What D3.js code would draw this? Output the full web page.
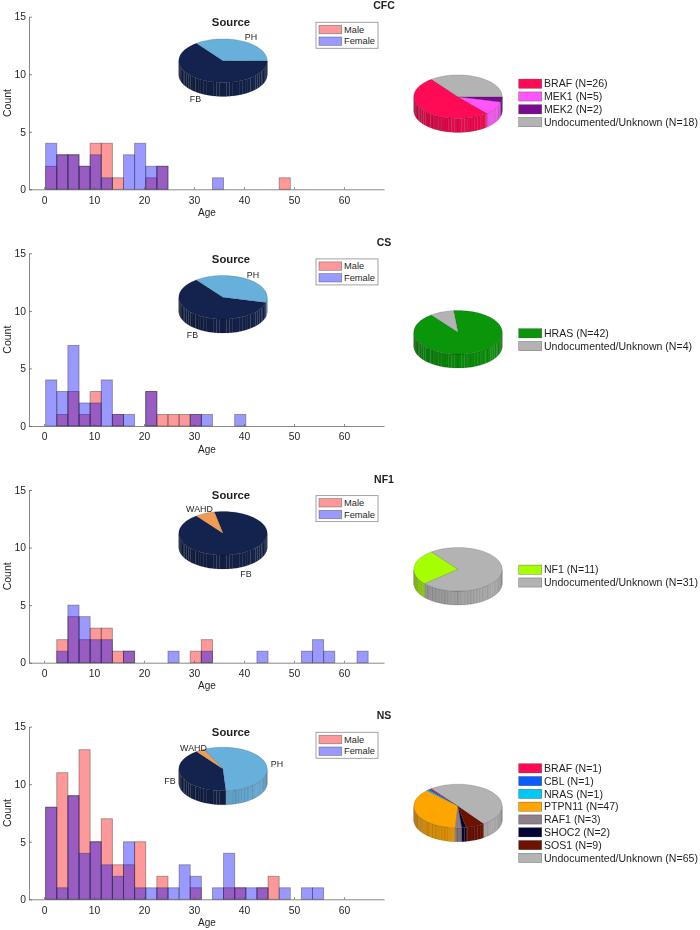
<!DOCTYPE html>
<html>
<head>
<meta charset="utf-8">
<script src="https://cdn.jsdelivr.net/npm/d3@7"></script>
<style>
html,body{margin:0;padding:0;background:#fff;}
svg{display:block;filter:blur(0.45px);}
text{font-family:"Liberation Sans",Arial,Helvetica,sans-serif;fill:#1f1f1f;}
</style>
</head>
<body>
<svg id="chart" width="700" height="930"></svg>
<script>
// ---- values ----
const panelNames = ["CFC", "CS", "NF1", "NS"];
const xTickValues = [0, 10, 20, 30, 40, 50, 60];
const yTickValues = [0, 5, 10, 15];
const sexLabels = ["Male", "Female"];

const binFirstEdge = 0.33;
const binWidth = 2.224;

const cfcMale   = [2,3,3,2,4,4,1,0,0,1,2,0,0,0,0,0,0,0,0,0,0,1,0,0,0,0,0,0,0];
const cfcFemale = [4,3,3,2,3,1,0,3,4,2,2,0,0,0,0,1,0,0,0,0,0,0,0,0,0,0,0,0,0];
const csMale    = [0,1,3,1,3,0,1,0,0,3,1,1,1,1,0,0,0,0,0,0,0,0,0,0,0,0,0,0,0];
const csFemale  = [4,3,7,2,2,4,1,1,0,3,0,0,0,1,1,0,0,1,0,0,0,0,0,0,0,0,0,0,0];
const nf1Male   = [0,2,4,2,3,3,1,1,0,0,0,0,0,1,2,0,0,0,0,0,0,0,0,0,0,0,0,0,0];
const nf1Female = [0,1,5,4,2,2,0,1,0,0,0,1,0,0,1,0,0,0,0,1,0,0,0,1,2,1,0,0,1];
const nsMale    = [8,11,9,13,5,7,3,3,5,0,2,0,0,1,0,0,1,1,0,1,2,0,0,0,0,0,0,0,0];
const nsFemale  = [8,1,9,4,5,3,2,5,1,1,1,1,3,2,0,1,4,1,1,1,0,1,0,1,1,0,0,0,0];

const cfcSourceNames = ["FB", "PH"];
const cfcSourceCounts = [33, 18];
const csSourceNames = ["FB", "PH"];
const csSourceCounts = [28, 18];
const nf1SourceNames = ["FB", "WAHD"];
const nf1SourceCounts = [39, 3];
const nsSourceNames = ["FB", "PH", "WAHD"];
const nsSourceCounts = [53, 73, 4];

const cfcGeneNames = ["BRAF", "MEK1", "MEK2", "Undocumented/Unknown"];
const cfcGeneCounts = [26, 5, 2, 18];
const csGeneNames = ["HRAS", "Undocumented/Unknown"];
const csGeneCounts = [42, 4];
const nf1GeneNames = ["NF1", "Undocumented/Unknown"];
const nf1GeneCounts = [11, 31];
const nsGeneNames = ["BRAF", "CBL", "NRAS", "PTPN11", "RAF1", "SHOC2", "SOS1", "Undocumented/Unknown"];
const nsGeneCounts = [1, 1, 1, 47, 3, 2, 9, 65];

// ---- styling and layout ----
const sliceColors = {
  FB:"#14234d", PH:"#68b0dc", WAHD:"#f09c55",
  BRAF:"#ff0a54", MEK1:"#ff55ff", MEK2:"#7a0a8f", HRAS:"#0a960a", NF1:"#a6ff00",
  CBL:"#0a5cff", NRAS:"#00c8f5", PTPN11:"#ffa500", RAF1:"#8c8089",
  SHOC2:"#050535", SOS1:"#6e1200", "Undocumented/Unknown":"#b3b3b3"
};
const sexFills = {Male:"#ff0000", Female:"#0000ff"};
const layout = [
  {top:16.7,  zero:189.3, srcCy:60.7,  geneCy:96.7,  legendY:83.7,  titleY:9,
   labels:{FB:[-27.5,38.5], PH:[28,-24]}},
  {top:253.3, zero:426,   srcCy:297.3, geneCy:332.3, legendY:333.3, titleY:246,
   labels:{FB:[-30.5,37.5], PH:[30,-22.5]}},
  {top:490,   zero:662.7, srcCy:533.3, geneCy:569.3, legendY:569.7, titleY:483,
   labels:{FB:[23,40.5], WAHD:[-23.5,-24]}},
  {top:726.7, zero:899.3, srcCy:769,   geneCy:806,   legendY:768.3, titleY:719,
   labels:{FB:[-53,11.5], PH:[54,-5], WAHD:[-29.5,-21.5]}}
];
const maleSeries = [cfcMale, csMale, nf1Male, nsMale];
const femaleSeries = [cfcFemale, csFemale, nf1Female, nsFemale];
const sourceNames = [cfcSourceNames, csSourceNames, nf1SourceNames, nsSourceNames];
const sourceCounts = [cfcSourceCounts, csSourceCounts, nf1SourceCounts, nsSourceCounts];
const geneNames = [cfcGeneNames, csGeneNames, nf1GeneNames, nsGeneNames];
const geneCounts = [cfcGeneCounts, csGeneCounts, nf1GeneCounts, nsGeneCounts];

const svg = d3.select("#chart");
const x = d3.scaleLinear().domain([-3, 68]).range([29, 384]);

const RX = 44.2, RY = 21.8, DEPTH = 14;
const START = 127 * Math.PI / 180;
const FACET = 2 * Math.PI / 84;

function drawPie(g, cx, cy, names, counts) {
  const arcs = d3.pie().sort(null).startAngle(START).endAngle(START + 2*Math.PI)(counts);
  const pt = (a, dy=0) => [cx + RX*Math.cos(a), cy - RY*Math.sin(a) + dy];
  const line = d3.line();

  // side wall: only the part facing the viewer (sin < 0), cut into facets
  arcs.forEach((arc) => {
    const col = sliceColors[names[arc.index]];
    const a0 = arc.startAngle, a1 = arc.endAngle;
    for (let k = Math.floor(a0/FACET); k*FACET < a1; k++) {
      const s = Math.max(a0, k*FACET), e = Math.min(a1, (k+1)*FACET);
      const mid = (s+e)/2;
      if (Math.sin(mid) >= 0 || e <= s) continue;
      const pos = (Math.cos(mid)+1)/2;
      const shade = d3.interpolateRgb("#000", col)(0.8 + 0.2*pos);
      const steps = d3.range(0, 3).map(i => s + (e-s)*i/2);
      const poly = steps.map(a => pt(a)).concat(steps.slice().reverse().map(a => pt(a, DEPTH)));
      g.append("path").attr("d", line(poly)+"Z")
        .attr("fill", shade).attr("stroke", "#000").attr("stroke-opacity", 0.22).attr("stroke-width", 0.5);
    }
  });

  // top surface
  arcs.forEach((arc) => {
    const col = sliceColors[names[arc.index]];
    const n = Math.max(2, Math.ceil((arc.endAngle-arc.startAngle)/0.03));
    const pts = [[cx, cy]].concat(d3.range(0, n+1).map(i => pt(arc.startAngle + (arc.endAngle-arc.startAngle)*i/n)));
    g.append("path").attr("d", line(pts)+"Z")
      .attr("fill", col).attr("stroke", "#000").attr("stroke-opacity", 0.35).attr("stroke-width", 0.4);
  });
}

panelNames.forEach((name, p) => {
  const L = layout[p];
  const g = svg.append("g");
  const y = d3.scaleLinear().domain([0, 15]).range([L.zero, L.top]);

  // histograms
  [["Male", maleSeries[p]], ["Female", femaleSeries[p]]].forEach(([sex, vals]) => {
    g.append("g").selectAll("rect").data(vals).join("rect")
      .attr("x", (d,i) => x(binFirstEdge + i*binWidth))
      .attr("width", x(binWidth) - x(0))
      .attr("y", d => y(d))
      .attr("height", d => y(0) - y(d))
      .attr("fill", sexFills[sex]).attr("fill-opacity", 0.4)
      .attr("stroke", "#333").attr("stroke-opacity", 0.45).attr("stroke-width", 0.9);
  });

  // axes
  const ax = g.append("g").attr("transform", `translate(0,${L.zero})`)
    .call(d3.axisBottom(x).tickValues(xTickValues).tickSize(-2).tickPadding(6).tickSizeOuter(0));
  const ay = g.append("g").attr("transform", "translate(29,0)")
    .call(d3.axisLeft(y).tickValues(yTickValues).tickSize(-3).tickPadding(3).tickSizeOuter(0));
  [ax, ay].forEach(a => {
    a.selectAll("path,line").attr("stroke", "#555").attr("stroke-width", 0.7);
    a.selectAll("text").style("font-size", "10.3px").style("fill", "#1f1f1f");
  });
  ax.selectAll("text").attr("y", 7);

  g.append("text").attr("x", 207).attr("y", L.zero + 26.5).attr("text-anchor", "middle")
    .style("font-size", "10px").text("Age");
  g.append("text").attr("transform", `translate(7,${(L.top+L.zero)/2}) rotate(-90)`)
    .attr("y", 3.7).attr("text-anchor", "middle").style("font-size", "10.5px").text("Count");

  // panel title
  g.append("text").attr("x", 384).attr("y", L.titleY).attr("text-anchor", "middle")
    .style("font-size", "10.5px").style("font-weight", "bold").text(name);

  // sex legend
  const lg = g.append("g").attr("transform", `translate(316,${L.top+5.6})`);
  lg.append("rect").attr("x", 0).attr("y", 0).attr("width", 62).attr("height", 26)
    .attr("fill", "#fff").attr("stroke", "#999").attr("stroke-width", 0.9);
  sexLabels.forEach((s, i) => {
    lg.append("rect").attr("x", 3).attr("y", 3 + i*11.7).attr("width", 22.7).attr("height", 8.4)
      .attr("fill", sexFills[s]).attr("fill-opacity", 0.4)
      .attr("stroke", "#333").attr("stroke-opacity", 0.5).attr("stroke-width", 0.7);
    lg.append("text").attr("x", 28).attr("y", 10.5 + i*11.7).style("font-size", "9.3px").text(s);
  });

  // source pie
  const srcG = g.append("g");
  srcG.append("text").attr("x", 231).attr("y", L.top + 9.2).attr("text-anchor", "middle")
    .style("font-size", "11.3px").style("font-weight", "bold").text("Source");
  drawPie(srcG, 223, L.srcCy, sourceNames[p], sourceCounts[p]);
  sourceNames[p].forEach(n => {
    const o = L.labels[n];
    srcG.append("text").attr("x", 223 + o[0]).attr("y", L.srcCy + o[1] + 3)
      .attr("text-anchor", "middle").style("font-size", "8.9px").text(n);
  });

  // gene pie
  drawPie(g.append("g"), 458, L.geneCy, geneNames[p], geneCounts[p]);

  // gene legend
  const gl = g.append("g").attr("transform", `translate(518.7,${L.legendY})`);
  geneNames[p].forEach((n, i) => {
    const yy = i * 12.8;
    gl.append("rect").attr("x", 0).attr("y", yy - 4.6).attr("width", 23).attr("height", 9.2)
      .attr("fill", sliceColors[n]).attr("stroke", "#000").attr("stroke-opacity", 0.4).attr("stroke-width", 0.6);
    gl.append("text").attr("x", 25.3).attr("y", yy + 3.7).style("font-size", "10.55px")
      .text(`${n} (N=${geneCounts[p][i]})`);
  });
});
</script>
</body>
</html>
